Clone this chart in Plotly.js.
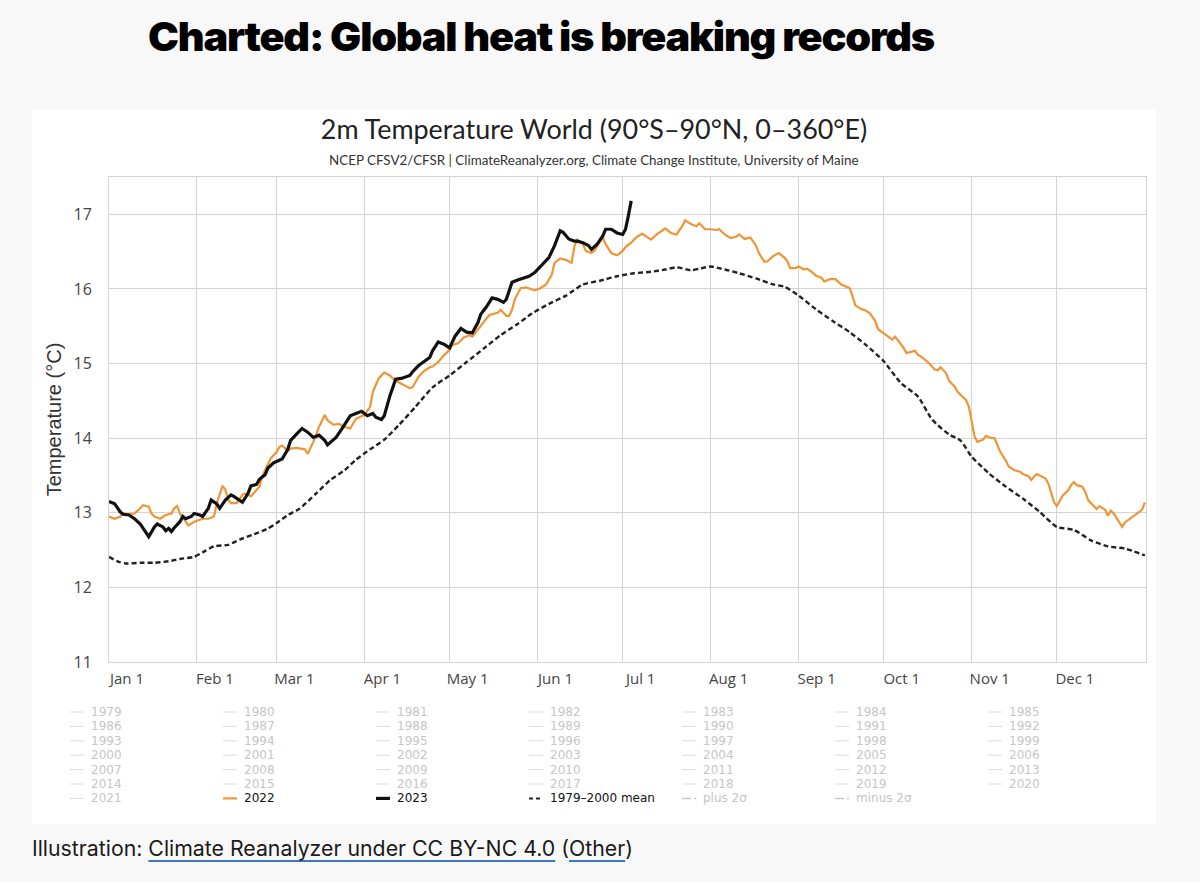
<!DOCTYPE html>
<html>
<head>
<meta charset="utf-8">
<script src="https://cdn.plot.ly/plotly-3.0.1.min.js"></script>
<style>
html, body { margin:0; padding:0; background:#f8f8f8; width:1200px; height:882px; overflow:hidden; }
#panel { position:absolute; left:32px; top:110px; width:1124px; height:714px; background:#ffffff; }
#chart { position:absolute; left:0; top:0; width:1200px; height:882px; }
#heading { position:absolute; left:148px; top:17px; font-family:Inter, "Noto Sans", sans-serif; font-weight:900;
  font-size:40px; line-height:1; color:#000; white-space:nowrap; transform-origin:0 0; letter-spacing:-0.03em; }
#caption { position:absolute; left:32px; top:838px; font-family:Inter, "Noto Sans", sans-serif; font-size:21px;
  line-height:1; color:#1a1a1a; white-space:nowrap; transform-origin:0 0; }
#caption a { color:#1a1a1a; text-decoration:underline; text-decoration-color:#3b78c4; text-decoration-thickness:2px; text-underline-offset:4px; }
</style>
</head>
<body>
<div id="heading">Charted: Global heat is breaking records</div>
<div id="panel"></div>
<div id="chart"></div>
<div id="caption">Illustration: <a>Climate Reanalyzer under CC BY-NC 4.0</a> (<a>Other</a>)</div>
<script>
// ---------- data (day of year, °C) ----------
const monthDays   = [1, 32, 60, 91, 121, 152, 182, 213, 244, 274, 305, 335];
const monthLabels = ['Jan 1','Feb 1','Mar 1','Apr 1','May 1','Jun 1','Jul 1','Aug 1','Sep 1','Oct 1','Nov 1','Dec 1'];
const yTicks = [11, 12, 13, 14, 15, 16, 17];

const days2023 = [1,3,5,6,8,10,12,14,15,17, 18,20,21,22,23,24,26,27,28,30,
  31,33,34,36,37,39,40,42,44,45, 47,48,50,51,53,54,56,57,59,61,
  62,64,65,67,69,71,73,75,77,78, 81,83,86,88,90,92,94,95,97,98,
  100,102,104,107,108,110,112,114,115,117, 119,121,123,125,127,129,131,132,134,136,
  138,140,141,143,145,147,149,151,152,154, 156,158,159,160,161,163,165,166,168,170,
  171,173,175,176,178,180,182,183,184,185];
const temp2023 = [13.15,13.12,13.01,12.98,12.97,12.92,12.85,12.74,12.68,12.81, 12.85,12.81,12.76,12.79,12.75,12.80,12.88,12.95,12.92,12.95,
  12.99,12.97,12.95,13.06,13.17,13.12,13.06,13.17,13.24,13.22, 13.17,13.14,13.26,13.36,13.38,13.45,13.51,13.60,13.67,13.70,
  13.72,13.85,13.97,14.05,14.13,14.08,14.01,14.04,13.97,13.91, 14.01,14.12,14.30,14.33,14.36,14.30,14.33,14.28,14.25,14.30,
  14.57,14.79,14.80,14.84,14.89,14.97,15.03,15.08,15.17,15.29, 15.26,15.21,15.37,15.47,15.42,15.41,15.55,15.66,15.76,15.88,
  15.86,15.82,15.86,16.09,16.12,16.14,16.17,16.22,16.26,16.35, 16.42,16.58,16.67,16.78,16.76,16.67,16.64,16.64,16.62,16.58,
  16.53,16.60,16.71,16.80,16.80,16.75,16.73,16.80,16.98,17.18];

const days2022 = [1,3,5,6,8,10,12,13,15,16, 17,19,21,23,24,25,26,28,29,31,
  33,34,36,38,39,41,42,43,44,46, 48,49,51,52,54,55,57,58,60,61,
  62,64,65,67,70,71,73,75,77,78, 80,82,84,86,88,91,93,94,96,98,
  100,101,103,105,107,108,110,112,114,115, 117,119,121,122,124,126,128,129,131,133,
  135,137,138,139,141,142,143,144,146,148, 150,151,153,155,157,158,160,162,164,165,
  166,168,169,171,172,174,175,176,178,180, 182,183,185,187,189,190,192,194,196,197,
  199,201,203,204,206,208,209,211,213,215, 216,218,220,222,223,225,227,229,230,232,
  233,235,237,239,240,241,243,244,246,247, 249,250,252,253,255,257,259,260,262,263,
  264,266,267,269,271,272,274,276,277,278, 280,281,282,284,285,286,288,290,292,293,
  294,296,297,298,299,300,302,303,304,305, 306,307,309,310,312,313,314,315,317,318,
  320,322,323,325,326,327,328,329,331,332, 333,334,335,336,337,339,340,341,342,344,
  345,346,348,349,350,352,353,354,355,357, 358,359,361,362,363,365,366];
const temp2022 = [12.95,12.92,12.95,12.99,12.98,12.99,13.06,13.10,13.08,12.99, 12.95,12.92,12.97,12.99,13.06,13.09,12.99,12.88,12.83,12.88,
  12.91,12.92,12.92,12.95,13.13,13.36,13.31,13.17,13.13,13.13, 13.24,13.26,13.22,13.26,13.35,13.49,13.64,13.73,13.81,13.88,
  13.90,13.83,13.86,13.87,13.85,13.79,13.95,14.15,14.31,14.24, 14.18,14.19,14.15,14.13,14.26,14.31,14.42,14.62,14.80,14.88,
  14.84,14.80,14.75,14.71,14.67,14.68,14.82,14.90,14.95,14.96, 15.02,15.11,15.18,15.25,15.27,15.35,15.38,15.36,15.46,15.56,
  15.65,15.67,15.68,15.72,15.64,15.64,15.72,15.86,16.01,16.02, 16.00,15.98,16.01,16.06,16.19,16.35,16.41,16.39,16.35,16.57,
  16.66,16.60,16.51,16.48,16.51,16.62,16.69,16.60,16.48,16.45, 16.51,16.56,16.62,16.70,16.74,16.71,16.66,16.73,16.78,16.81,
  16.75,16.73,16.84,16.92,16.87,16.84,16.88,16.80,16.80,16.79, 16.80,16.73,16.68,16.70,16.73,16.67,16.69,16.58,16.48,16.36,
  16.37,16.44,16.48,16.42,16.37,16.28,16.28,16.30,16.26,16.27, 16.22,16.18,16.15,16.10,16.13,16.13,16.06,16.04,16.01,15.90,
  15.78,15.73,15.72,15.68,15.57,15.46,15.40,15.34,15.32,15.36, 15.27,15.21,15.14,15.16,15.17,15.12,15.07,15.00,14.92,14.91,
  14.95,14.87,14.77,14.73,14.69,14.62,14.55,14.51,14.42,14.20, 14.02,13.95,13.98,14.03,14.00,14.00,13.91,13.82,13.70,13.62,
  13.57,13.55,13.52,13.49,13.44,13.49,13.52,13.50,13.46,13.39, 13.26,13.14,13.09,13.17,13.23,13.30,13.37,13.41,13.37,13.35,
  13.28,13.17,13.08,13.05,13.09,13.04,12.96,13.03,12.99,12.87, 12.81,12.87,12.93,12.96,12.99,13.04,13.14];

const daysMean = [1,4,7,12,17,22,26,31,34,38, 43,47,52,57,60,64,68,74,79,84,
  88,93,98,103,109,115,121,127,133,139, 145,150,156,162,168,174,180,186,192,197,
  201,206,209,213,218,223,229,235,239,244, 250,256,262,268,274,280,286,291,297,301,
  305,311,317,323,329,335,341,347,353,359, 366];
const tempMean = [12.41,12.35,12.32,12.33,12.33,12.35,12.38,12.41,12.47,12.55, 12.57,12.64,12.71,12.79,12.86,12.97,13.05,13.26,13.44,13.57,
  13.71,13.85,13.98,14.17,14.42,14.68,14.84,15.02,15.20,15.38, 15.53,15.67,15.80,15.91,16.06,16.11,16.17,16.21,16.23,16.26,
  16.29,16.25,16.27,16.30,16.26,16.21,16.14,16.06,16.03,15.91, 15.73,15.57,15.42,15.24,15.03,14.74,14.56,14.25,14.05,13.97,
  13.75,13.53,13.35,13.19,13.01,12.81,12.77,12.63,12.55,12.52, 12.43];

const legendYears = ['1979','1980','1981','1982','1983','1984','1985','1986','1987','1988','1989','1990','1991','1992',
  '1993','1994','1995','1996','1997','1998','1999','2000','2001','2002','2003','2004','2005','2006','2007','2008',
  '2009','2010','2011','2012','2013','2014','2015','2016','2017','2018','2019','2020','2021'];
const legendSpecial = ['2022','2023','1979–2000 mean','plus 2σ','minus 2σ'];

// ---------- styles ----------
const ORANGE = '#ef9535', BLACK = '#111111';
const specialStyle = {
  '2022': {line: ORANGE, width: 2.2, dash: 'solid', text: '#111'},
  '2023': {line: BLACK, width: 3.2, dash: 'solid', text: '#111'},
  '1979–2000 mean': {line: '#222', width: 2, dash: '4px,3px', text: '#111'},
  'plus 2σ': {line: '#c8c8c8', width: 1.5, dash: 'dashdot', text: '#c4c4c4'},
  'minus 2σ': {line: '#c8c8c8', width: 1.5, dash: 'dashdot', text: '#c4c4c4'}
};
const grayStyle = {line: '#dedede', width: 1, dash: 'solid', text: '#c6c6c6'};
const LEGEND_FONT = '"DejaVu Sans", Verdana, sans-serif';

// plot box in page pixels
const PL = 109, PR = 1146, PT = 177, PB = 662;
const fx = px => (px - PL) / (PR - PL);
const fy = py => (PB - py) / (PB - PT);

const traces = [
  {x: daysMean, y: tempMean, type: 'scatter', mode: 'lines', name: '1979–2000 mean',
   line: {color: '#222', width: 2.4, dash: '5px,3px', shape: 'spline', smoothing: 0.6}, hoverinfo: 'skip'},
  {x: days2022, y: temp2022, type: 'scatter', mode: 'lines', name: '2022',
   line: {color: ORANGE, width: 2.2}, hoverinfo: 'skip'},
  {x: days2023, y: temp2023, type: 'scatter', mode: 'lines', name: '2023',
   line: {color: BLACK, width: 3.2}, hoverinfo: 'skip'}
];

const annotations = [{
  xref: 'paper', yref: 'paper', x: fx(594), y: fy(160), xanchor: 'center', yanchor: 'middle', showarrow: false,
  text: 'NCEP CFSV2/CFSR | ClimateReanalyzer.org, Climate Change Institute, University of Maine',
  font: {family: 'Lato, "Open Sans", sans-serif', size: 13.4, color: '#333'}
}];
const shapes = [];

const items = legendYears.map(n => ({name: n, st: grayStyle}))
  .concat(legendSpecial.map(n => ({name: n, st: specialStyle[n]})));
items.forEach((it, i) => {
  const row = Math.floor(i / 7), col = i % 7;
  const tx = 92 + col * 153, ty = 712 + row * 14.4;
  shapes.push({type: 'line', xref: 'paper', yref: 'paper', x0: fx(tx - 22), x1: fx(tx - 8), y0: fy(ty), y1: fy(ty),
    line: {color: it.st.line, width: it.st.width, dash: it.st.dash}});
  annotations.push({xref: 'paper', yref: 'paper', x: fx(tx - 2), y: fy(ty), xanchor: 'left', yanchor: 'middle',
    showarrow: false, borderpad: 0, text: it.name, font: {family: LEGEND_FONT, size: 12, color: it.st.text}});
});

const layout = {
  width: 1200, height: 882,
  margin: {l: PL, r: 1200 - PR, t: PT, b: 882 - PB, pad: 0},
  paper_bgcolor: 'rgba(0,0,0,0)', plot_bgcolor: '#ffffff',
  font: {family: '"Open Sans", sans-serif', color: '#444'},
  showlegend: false,
  title: {text: '2m Temperature World (90°S–90°N, 0–360°E)', xref: 'container', yref: 'container',
    x: 594 / 1200, xanchor: 'center', y: 1 - 130 / 882, yanchor: 'middle',
    font: {family: 'Lato, "Open Sans", sans-serif', size: 26.9, color: '#222'}},
  xaxis: {range: [1, 366.4], tickmode: 'array', tickvals: monthDays, ticktext: monthLabels,
    showgrid: true, gridcolor: '#d4d4d4', gridwidth: 1, zeroline: false,
    showline: true, mirror: true, linecolor: '#d4d4d4', linewidth: 1, ticks: '',
    tickfont: {size: 15, color: '#444'}, ticklabelshift: 18, ticklabelstandoff: 3, fixedrange: true},
  yaxis: {range: [11, 17.5], tickmode: 'array', tickvals: yTicks,
    showgrid: true, gridcolor: '#d4d4d4', gridwidth: 1, zeroline: false,
    showline: true, mirror: true, linecolor: '#d4d4d4', linewidth: 1, ticks: '',
    tickfont: {size: 16, color: '#444'}, ticklabelstandoff: 13, fixedrange: true,
    title: {text: 'Temperature (°C)', standoff: 6,
      font: {family: '"Liberation Sans", Arial, sans-serif', size: 20, color: '#333'}}},
  annotations: annotations,
  shapes: shapes
};

Plotly.newPlot('chart', traces, layout, {displayModeBar: false, staticPlot: true});

function fitText(id, target) {
  const el = document.getElementById(id);
  el.style.transform = 'none';
  const w = el.getBoundingClientRect().width;
  if (w > 0) el.style.transform = 'scaleX(' + (target / w) + ')';
}
function fitAll() { fitText('heading', 786); fitText('caption', 601); }
fitAll();
if (document.fonts && document.fonts.ready) document.fonts.ready.then(fitAll);
</script>
</body>
</html>
